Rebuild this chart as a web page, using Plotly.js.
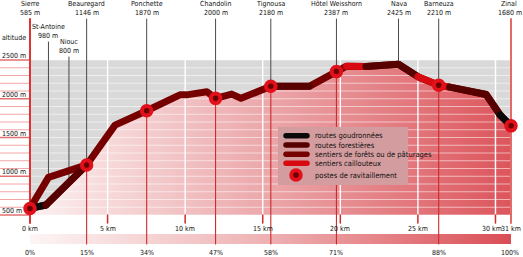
<!DOCTYPE html>
<html><head><meta charset="utf-8">
<script src="https://cdn.plot.ly/plotly-3.0.1.min.js"></script>
<style>
html,body{margin:0;padding:0;background:#fff;}
#chart{width:523px;height:257px;}
.js-line{stroke-linecap:round;stroke-linejoin:round;}
</style></head><body><div id="chart"></div>
<script>
// ---------- data ----------
const stationNames = ['Sierre','St-Antoine','Niouc','Beauregard','Ponchette','Chandolin','Tignousa','Hôtel Weisshorn','Nava','Barneuza','Zinal'];
const stationKm = [0, 1.19, 2.51, 3.65, 7.52, 11.96, 15.52, 19.75, 23.75, 26.34, 31];
const stationAltLabel = [585, 980, 800, 1146, 1870, 2000, 2180, 2387, 2425, 2210, 1680];
const stationProfileAlt = [585, 985, 920, 1146, 1845, 2005, 2160, 2350, 2445, 2175, 1650];
const stationPct = [0, null, null, 15, 34, 47, 58, 71, null, 88, 100];

const mainKm  = [0, 1.03, 3.65, 5.48, 7.52, 9.66, 10.1, 11.4, 11.96, 13.0, 13.6, 15.52, 18.0, 19.75, 20.4, 21.65, 23.75, 25.0, 26.34, 27.05, 29.4, 30.3, 31];
const mainAlt = [585, 629, 1146, 1660, 1845, 2050, 2050, 2090, 2005, 2060, 2005, 2160, 2160, 2350, 2420, 2415, 2445, 2285, 2175, 2150, 2055, 1790, 1650];
const segType = ['road','forestRoad','forestPath','forestPath','forestPath','forestPath','forestPath','forestPath','forestPath','forestPath','forestPath',
                 'forestRoad','forestPath','forestPath','stony','forestRoad','forestRoad','stony','stony','forestRoad','forestRoad','road'];
const branchKm  = [0, 1.19, 3.65];
const branchAlt = [585, 985, 1146];

const kmTicks = [0, 5, 10, 15, 20, 25, 30, 31];
const altTicks = [500, 1000, 1500, 2000, 2500];
const legendTypes = ['road','forestRoad','forestPath','stony'];
const legendLabels = ['routes goudronnées','routes forestières','sentiers de forêts ou de pâturages','sentiers caillouteux','postes de ravitaillement'];

// ---------- styling / layout helpers ----------
const W = 523, H = 257;
const PX0 = 30, PXKM = 15.516;          // 0 km at px 30
const PY500 = 215, PYM = 0.0775;        // 500 m at px 215
const X0 = -PX0 / PXKM, X1 = (W - PX0) / PXKM;
const Y0 = 500 - (H - PY500) / PYM, Y1 = 500 + PY500 / PYM;
const pxToAlt = p => 500 + (PY500 - p) / PYM;
const altToPx = a => PY500 - (a - 500) * PYM;
const FONT = 'Liberation Sans Narrow, Arial Narrow, DejaVu Sans Condensed, sans-serif';
const TXT = '#111111';
const FS = 7;
const colors = {road:'#0a0a0a', forestRoad:'#560000', forestPath:'#760000', stony:'#d60a10'};
const LW = 7;
const labelPx = [4, 27, 42, 4, 4, 4, 4, 4, 4, 4, 4];
const altMin = 500, altMax = 2500;

const traces = [];

// gradient fill under the profile
traces.push({x: mainKm.concat([31, 0]), y: mainAlt.concat([altMin, altMin]), mode:'none', fill:'toself',
  fillgradient:{type:'horizontal', colorscale:[[0,'#fcf1f1'],[0.5,'#eba6a9'],[1,'#dc555c']]}, hoverinfo:'skip'});

// horizontal grid lines (every 100 m) inside plot, and red ones in left margin
const gx = [], gy = [], lx = [], ly = [], mx = [], my = [];
for (let a = altMin; a <= altMax; a += 100) {
  gx.push(0, 31, null); gy.push(a, a, null);
  if (altTicks.includes(a)) { mx.push(X0, 0, null); my.push(a, a, null); }
  else { lx.push(X0, 0, null); ly.push(a, a, null); }
}
traces.push({x:gx, y:gy, mode:'lines', line:{color:'rgba(255,255,255,0.55)', width:1}, hoverinfo:'skip'});
traces.push({x:lx, y:ly, mode:'lines', line:{color:'#f2a6a6', width:1}, hoverinfo:'skip'});
traces.push({x:mx, y:my, mode:'lines', line:{color:'#e27070', width:1.6}, hoverinfo:'skip'});

// vertical white km lines + red ticks below
const vx = [], vy = [], tx = [], ty = [];
kmTicks.forEach(k => {
  if (k > 0 && k < 31) { vx.push(k, k, null); vy.push(altMin, altMax, null); tx.push(k, k, null); ty.push(altMin, pxToAlt(223), null); }
});
traces.push({x:vx, y:vy, mode:'lines', line:{color:'#ffffff', width:1.4}, hoverinfo:'skip'});
traces.push({x:tx, y:ty, mode:'lines', line:{color:'#d42a2a', width:1.5}, hoverinfo:'skip'});

// percentage bar
traces.push({x:[0,31,31,0,0], y:[pxToAlt(244),pxToAlt(244),pxToAlt(234),pxToAlt(234),pxToAlt(244)], mode:'none', fill:'toself',
  fillgradient:{type:'horizontal', colorscale:[[0,'#fdf5f5'],[0.5,'#eeb0b2'],[1,'#da4e56']]}, hoverinfo:'skip'});

// station lines
const sgx = [], sgy = [], srx = [], sry = [];
const endRed = [];
stationNames.forEach((n, i) => {
  const k = stationKm[i], top = pxToAlt(labelPx[i] + 15);
  if (i === 0 || i === stationNames.length - 1) { endRed.push({x:[k,k], y:[top, pxToAlt(223)], c: i === 0 ? '#e03434' : '#e46a6a'}); return; }
  sgx.push(k, k, null); sgy.push(top, stationProfileAlt[i], null);
  if (stationPct[i] !== null) { srx.push(k, k, null); sry.push(stationProfileAlt[i], pxToAlt(244), null); }
});
traces.push({x:sgx, y:sgy, mode:'lines', line:{color:'#4a4a4a', width:1}, hoverinfo:'skip'});
traces.push({x:srx, y:sry, mode:'lines', line:{color:'#cc2b2b', width:1.1}, hoverinfo:'skip'});
endRed.forEach(e => traces.push({x:e.x, y:e.y, mode:'lines', line:{color:e.c, width:2}, hoverinfo:'skip'}));

// profile
traces.push({x:branchKm, y:branchAlt, mode:'lines', line:{color:colors.forestPath, width:LW}, hoverinfo:'skip'});
traces.push({x:mainKm, y:mainAlt, mode:'lines', line:{color:colors.forestPath, width:LW}, hoverinfo:'skip'});
let s = 0;
for (let i = 1; i <= segType.length; i++) {
  if (i === segType.length || segType[i] !== segType[s]) {
    if (segType[s] !== 'forestPath') {
      traces.push({x:mainKm.slice(s, i + 1), y:mainAlt.slice(s, i + 1), mode:'lines', line:{color:colors[segType[s]], width:LW}, hoverinfo:'skip'});
    }
    s = i;
  }
}
// supply posts
const pk = [], pa = [];
stationPct.forEach((p, i) => { if (p !== null) { pk.push(stationKm[i]); pa.push(stationProfileAlt[i]); } });
const markerStyle = {size:9.5, color:'#6a0000', line:{color:'#e2101a', width:4}};
traces.push({x:pk, y:pa, mode:'markers', marker:markerStyle, hoverinfo:'skip'});

// legend (pixel overlay axes)
traces.push({x:[278,408,408,278,278], y:[127,127,185,185,127], xaxis:'x2', yaxis:'y2', mode:'none', fill:'toself', fillcolor:'#d39c9e', hoverinfo:'skip'});
const legY = [135.7, 145, 154.3, 163.3, 175];
legendTypes.forEach((t, i) => traces.push({x:[286, 307], y:[legY[i], legY[i]], xaxis:'x2', yaxis:'y2', mode:'lines', line:{color:colors[t], width:5.5}, hoverinfo:'skip'}));
traces.push({x:[296], y:[legY[4]], xaxis:'x2', yaxis:'y2', mode:'markers', marker:markerStyle, hoverinfo:'skip'});

// ---------- annotations ----------
const ann = [];
const A = (o) => ann.push(Object.assign({showarrow:false, font:{family:FONT, size:FS, color:TXT}}, o));
const last = stationNames.length - 1;
stationNames.forEach((n, i) => {
  A({x:stationKm[i], xref:'x', y:labelPx[i], yref:'y2', text:n, xanchor:'center', yanchor:'middle', xshift: i === last ? -2 : 0});
  A({x:stationKm[i], xref:'x', y:labelPx[i] + 9, yref:'y2', text:stationAltLabel[i] + ' m', xanchor:'center', yanchor:'middle', xshift: i === last ? -1 : 0});
  if (stationPct[i] !== null) A({x:stationKm[i], xref:'x', y:253, yref:'y2', text:stationPct[i] + '%', xanchor:'center', yanchor:'middle', xshift: i === last ? -1 : 0});
});
kmTicks.forEach(k => {
  if (k === 31) A({x:W, xref:'x2', y:229, yref:'y2', text:k + ' km', xanchor:'right', yanchor:'middle'});
  else A({x:k, xref:'x', y:229, yref:'y2', text:k + ' km', xanchor:'center', yanchor:'middle', xshift: k === 30 ? -3 : 0});
});
altTicks.forEach(a => A({x:0, xref:'x2', y:altToPx(a) - 4, yref:'y2', text:a + ' m', xanchor:'left', yanchor:'middle'}));
A({x:0, xref:'x2', y:38, yref:'y2', text:'altitude', xanchor:'left', yanchor:'middle'});
legendLabels.forEach((t, i) => A({x:313, xref:'x2', y:legY[i], yref:'y2', text:t, xanchor:'left', yanchor:'middle', font:{family:FONT, size:7.5, color:TXT}}));

const layout = {
  width:W, height:H, margin:{l:0, r:0, t:0, b:0}, paper_bgcolor:'#ffffff', plot_bgcolor:'rgba(0,0,0,0)',
  showlegend:false, hovermode:false,
  xaxis:{range:[X0, X1], visible:false, fixedrange:true},
  yaxis:{range:[Y0, Y1], visible:false, fixedrange:true},
  xaxis2:{range:[0, W], visible:false, overlaying:'x', anchor:'y2'},
  yaxis2:{range:[H, 0], visible:false, overlaying:'y', anchor:'x2'},
  shapes:[{type:'rect', xref:'x', yref:'y', x0:0, x1:31, y0:altMin, y1:altMax, fillcolor:'#d9d9d9', line:{width:0}, layer:'below'}],
  annotations:ann
};
Plotly.newPlot('chart', traces, layout, {staticPlot:true, displayModeBar:false});
</script></body></html>
